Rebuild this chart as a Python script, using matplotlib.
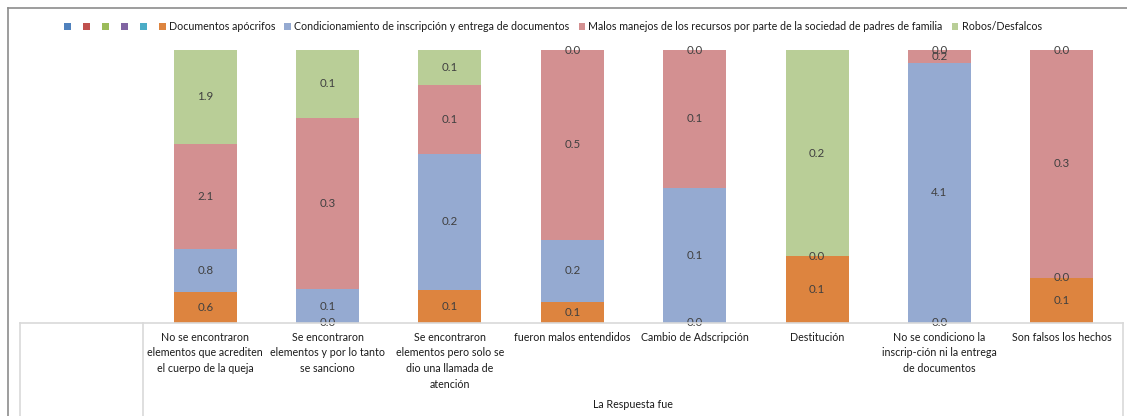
import numpy as np
import matplotlib
matplotlib.use("Agg")
import matplotlib.pyplot as plt
from matplotlib.patches import Patch
from matplotlib.lines import Line2D

plt.rcParams['font.family'] = ['Lato', 'DejaVu Sans']

categories = [
    "No se encontraron\nelementos que acrediten\nel cuerpo de la queja",
    "Se encontraron\nelementos y por lo tanto\nse sanciono",
    "Se encontraron\nelementos pero solo se\ndio una llamada de\natención",
    "fueron malos entendidos",
    "Cambio de Adscripción",
    "Destitución",
    "No se condiciono la\ninscrip-ción ni la entrega\nde documentos",
    "Son falsos los hechos",
]
series_names = [
    "Documentos apócrifos",
    "Condicionamiento de inscripción y entrega de documentos",
    "Malos manejos de los recursos por parte de la sociedad de padres de familia",
    "Robos/Desfalcos",
]
nan = np.nan
documentos = [0.62, 0.0, 0.058, 0.054, 0.0, 0.065, 0.0, 0.06]
condicionamiento = [0.84, 0.052, 0.24, 0.16, 0.1, 0.0, 4.1, 0.0]
malos_manejos = [2.1, 0.265, 0.12, 0.486, 0.102, nan, 0.2, 0.3]
robos = [1.86, 0.105, 0.062, 0.0, 0.0, 0.2, 0.0, 0.0]
axis_title = "La Respuesta fue"

colors = ["#DD843F", "#95AAD1", "#D39091", "#B9CE97"]
empty_colors = ["#4F81BD", "#C0504D", "#9BBB59", "#8064A2", "#4BACC6"]

W, H = 1127, 416
fig = plt.figure(figsize=(W / 100, H / 100), dpi=100)

def fx(px):
    return px / W

def fy(py):
    return 1 - py / H

ax = fig.add_axes([fx(144), fy(323), fx(1123) - fx(144), fy(50) - fy(323)])
data = np.array([documentos, condicionamiento, malos_manejos, robos], dtype=float)
totals = np.nansum(data, axis=0)
frac = np.nan_to_num(data) / totals
x = np.arange(len(categories))
bottom = np.zeros(len(categories))
for i, (vals, fr) in enumerate(zip(data, frac)):
    ax.bar(x, fr, bottom=bottom, width=0.515, color=colors[i], edgecolor='none')
    for j in range(len(categories)):
        if not np.isnan(vals[j]):
            ax.text(x[j], bottom[j] + fr[j] / 2, f"{vals[j]:.1f}", ha='center', va='center',
                    fontsize=8.3, color='#404040')
    bottom += fr

ax.set_xlim(-0.5, len(categories) - 0.5)
ax.set_ylim(0, 1)
ax.axis('off')

# category labels (table area)
for j, c in enumerate(categories):
    xp = ax.transData.transform((x[j], 0))[0]
    fig.text(xp / W, fy(332), c, ha='center', va='top', fontsize=7.7, color='#1a1a1a',
             linespacing=1.5)
fig.text(fx(633), fy(405), axis_title, ha='center', va='center', fontsize=7.7, color='#1a1a1a')

# table lines
grid_c = '#d9d9d9'
fig.add_artist(Line2D([fx(20), fx(1123)], [fy(323), fy(323)], color=grid_c, lw=1.2))
for xv in [20, 143, 1123]:
    fig.add_artist(Line2D([fx(xv), fx(xv)], [fy(323), 0], color=grid_c, lw=1.2))
# outer border
fig.add_artist(Line2D([fx(7.5), fx(7.5)], [fy(8), 0], color='#8c8c8c', lw=1.2))
fig.add_artist(Line2D([fx(7.5), 1], [fy(8), fy(8)], color='#8c8c8c', lw=1.2))

handles = [Patch(facecolor=c, edgecolor='none') for c in empty_colors]
labels = [""] * 5
handles += [Patch(facecolor=c, edgecolor='none') for c in colors]
labels += series_names
fig.legend(handles, labels, loc='center', bbox_to_anchor=(fx(553), fy(27)), ncol=9,
           frameon=False, fontsize=7.7, handlelength=0.62, handleheight=0.62,
           handletextpad=0.3, columnspacing=0.85, labelcolor='#1a1a1a')

fig.savefig("out.png", dpi=100)
